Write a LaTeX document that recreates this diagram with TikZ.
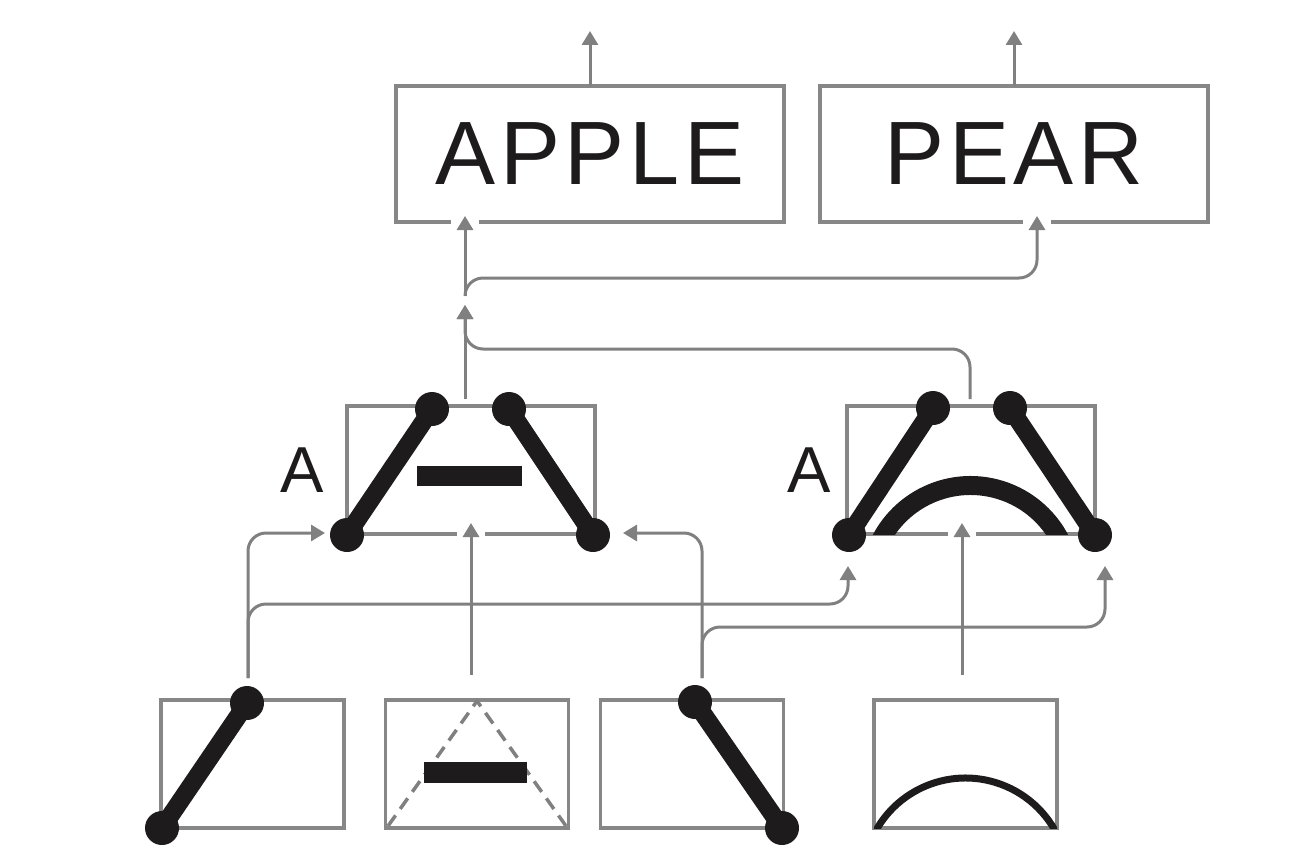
\documentclass[tikz,border=0pt]{standalone}
\usepackage{fontspec}
\usetikzlibrary{arrows.meta}
\newfontfamily\wordfont[LetterSpace=5]{Liberation Sans}
\newfontfamily\letterfont{Liberation Sans}
\definecolor{wiregray}{HTML}{808080}
\definecolor{framegray}{HTML}{878787}
\definecolor{inkblack}{HTML}{1E1B1C}

\begin{document}
\begin{tikzpicture}[
  x=1pt, y=-1pt,
  frame/.style={draw=framegray, line width=3.5pt, rectangle, inner sep=0pt, outer sep=0pt},
  wordbox/.style={frame, minimum width=388pt, minimum height=136pt, text=inkblack,
    font=\wordfont\fontsize{90}{90}\selectfont},
  featbox/.style={frame, minimum width=248pt, minimum height=128pt},
  cellbox/.style={frame, minimum width=183pt, minimum height=128pt},
  letter/.style={inkblack, font=\letterfont\fontsize{65}{65}\selectfont},
  wire/.style={wiregray, line width=3pt, rounded corners=18pt},
  feed/.style={wire, -{Triangle[length=14pt, width=16pt]}},
  stroke/.style={inkblack, line width=18pt},
  gap/.style={fill=white},
]
\useasboundingbox (0,0) rectangle (1314,851);

% ===== Word level =====
\node[wordbox] (apple) at (590,154) {APPLE};
\node[wordbox] (pear) at (1014,154) {PEAR};

% ===== Letter level =====
\node[featbox] (abar) at (471,470) {};
\node[featbox] (aarc) at (971,470) {};
\node[letter] (abarA) at (302,470.5) {A};
\node[letter] (aarcA) at (809.5,470.5) {A};

% ===== Feature level =====
\node[cellbox] (fleft) at (252.5,764) {};
\node[cellbox] (fbar) at (477,764) {};
\node[cellbox] (fright) at (692,764) {};
\node[cellbox] (farc) at (965.5,764) {};

% Gaps in the frames where the arrows come in
\fill[gap] (451,219) rectangle (479,225);
\fill[gap] (1023,219) rectangle (1051,225);
\fill[gap] (457,531) rectangle (485,537);
\fill[gap] (948,531) rectangle (976,537);

% Stroke end points
\coordinate (abar-tl) at (432,409);
\coordinate (abar-tr) at (509,409);
\coordinate (abar-bl) at (347,535);
\coordinate (abar-br) at (593,535);
\coordinate (aarc-tl) at (933,408);
\coordinate (aarc-tr) at (1010,408);
\coordinate (aarc-bl) at (849,535);
\coordinate (aarc-br) at (1095,535);
\coordinate (fleft-t) at (247,703);
\coordinate (fleft-b) at (162,828);
\coordinate (fright-t) at (695,702);
\coordinate (fright-b) at (782,828);

% Left A: two strokes and the crossbar
\draw[stroke] (abar-bl) -- (abar-tl);
\draw[stroke] (abar-tr) -- (abar-br);
\fill[inkblack] (417,466) rectangle (522,486);

% Right A: two strokes and the curved bar
\draw[stroke] (aarc-bl) -- (aarc-tl);
\draw[stroke] (aarc-tr) -- (aarc-br);
\begin{scope}
  \clip (aarc.north west) rectangle (aarc.south east);
  \draw[inkblack, line width=19pt] (970.5,586.5) ++(-160:101) arc[start angle=-160, end angle=-20, radius=101];
\end{scope}

\foreach \p in {abar-tl,abar-tr,abar-bl,abar-br,aarc-tl,aarc-tr,aarc-bl,aarc-br}
  \fill[inkblack] (\p) circle (17pt);

% Features
\draw[stroke] (fleft-b) -- (fleft-t);
\draw[stroke] (fright-t) -- (fright-b);
\foreach \p in {fleft-t,fleft-b,fright-t,fright-b}
  \fill[inkblack] (\p) circle (17pt);

\draw[wiregray, line width=3.5pt, dash pattern=on 13pt off 8pt] (388,826) -- (477,701) -- (566,826);
\fill[inkblack] (424,762) rectangle (527,783);

\begin{scope}
  \clip (farc.north west) rectangle (farc.south east);
  \draw[inkblack, line width=7pt] (965.5,880.6) ++(-160:102.6) arc[start angle=-160, end angle=-20, radius=102.6];
\end{scope}

% ===== Connections =====
\coordinate (apple-out) at (590,31);
\coordinate (pear-out) at (1014,31);
\coordinate (apple-in) at (465,216);
\coordinate (pear-in) at (1037,216);
\coordinate (split) at (465,296);
\coordinate (merge) at (465,305);
\coordinate (abar-out) at (465,399);
\coordinate (aarc-out) at (970,399);
\coordinate (abar-in-l) at (325,533);
\coordinate (abar-in-b) at (471,523);
\coordinate (abar-in-r) at (623,533);
\coordinate (aarc-in-l) at (848,566);
\coordinate (aarc-in-b) at (962,523);
\coordinate (aarc-in-r) at (1105,566);
\coordinate (fleft-out) at (248,678);
\coordinate (fbar-out) at (471,675);
\coordinate (fright-out) at (702,678);
\coordinate (farc-out) at (962,675);

% words out
\draw[feed] (apple.north) -- (apple-out);
\draw[feed] (pear.north) -- (pear-out);

% letters up to words
\draw[feed] (abar-out) -- (merge);
\draw[feed] (aarc-out) -- ++(0,-50) -| (merge);
\draw[feed] (split) -- (apple-in);
\draw[feed] (split) -- ++(0,-18) -| (pear-in);

% features up to letters
\draw[feed] (fleft-out) |- (abar-in-l);
\draw[feed] (fleft-out) -- ++(0,-74) -| (aarc-in-l);
\draw[feed] (fbar-out) -- (abar-in-b);
\draw[feed] (fright-out) |- (abar-in-r);
\draw[feed] (fright-out) -- ++(0,-51) -| (aarc-in-r);
\draw[feed] (farc-out) -- (aarc-in-b);

\end{tikzpicture}
\end{document}
